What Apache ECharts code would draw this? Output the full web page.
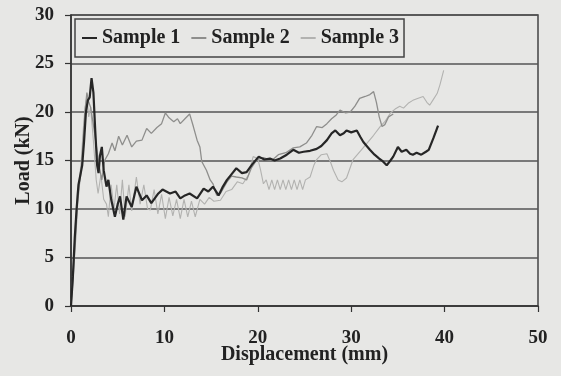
<!DOCTYPE html>
<html><head><meta charset="utf-8">
<script src="https://cdn.jsdelivr.net/npm/echarts@6/dist/echarts.min.js"></script>
<style>html,body{margin:0;padding:0;background:#e7e7e5;}#c{width:561px;height:376px;}</style>
</head><body><div id="c"></div>
<script>
var seriesNames = ['Sample 1', 'Sample 2', 'Sample 3'];
var xTicks = [0, 10, 20, 30, 40, 50];
var yTicks = [0, 5, 10, 15, 20, 25, 30];

var disp1 = [0,0.2,0.4,0.6,0.8,1.0,1.2,1.4,1.6,1.8,2.0,2.2,2.4,2.6,2.8,2.95,3.1,3.3,3.5,3.8,4.0,4.3,4.7,5.0,5.25,5.6,5.95,6.5,7.0,7.6,8.1,8.6,9.35,9.8,10.6,11.2,11.7,12.2,12.7,13.5,14.2,14.7,15.2,15.8,16.2,16.7,17.2,17.7,18.3,18.8,19.4,20.1,20.7,21.3,21.8,22.4,23.1,23.8,24.4,24.9,25.6,26.3,26.8,27.4,27.9,28.3,28.8,29.2,29.5,30.0,30.6,31.0,31.3,32.0,32.5,33.0,33.4,33.8,34.2,34.5,35.0,35.4,35.9,36.3,36.6,37.0,37.5,38.0,38.3,38.8,39.3];
var load1 = [0,3,7,10,12.5,13.5,14.5,17,20,21.2,21.5,23.5,22,18,14.5,13.7,15.5,16.4,14,12.3,13,11,9.2,10.5,11.3,8.9,11.3,10.2,12.3,10.9,11.4,10.6,11.6,12,11.6,11.8,11.1,11.4,11.6,11.1,12.1,11.8,12.3,11.4,12.2,13,13.6,14.2,13.7,13.8,14.6,15.4,15.1,15.2,15.0,15.2,15.6,16.1,15.8,15.9,16.0,16.2,16.5,17.1,17.8,18.1,17.6,17.8,18.1,17.9,18.1,17.4,16.9,16.1,15.6,15.2,14.9,14.5,15.0,15.4,16.4,15.9,16.1,15.7,15.6,15.8,15.6,15.9,16.1,17.3,18.6];

var disp2 = [0,0.2,0.5,0.7,0.9,1.1,1.3,1.5,1.7,1.9,2.1,2.5,3.0,3.3,3.6,4.0,4.4,4.7,5.1,5.5,6.0,6.5,7.0,7.6,8.1,8.6,9.2,9.7,10.1,10.5,11.0,11.4,11.7,12.2,12.7,13.1,13.5,13.8,14.0,14.5,14.9,15.2,15.6,16.0,16.2,16.7,17.2,17.7,18.3,18.8,19.3,19.9,20.6,21.5,22.2,23.0,23.8,24.5,25.2,25.8,26.3,26.9,27.4,27.9,28.4,28.8,29.4,29.9,30.4,30.9,31.5,32.0,32.4,32.7,33.0,33.3,33.6,34.0,34.5];
var load2 = [0,2.5,7,10.5,12.5,14,17,20,22,21,20.5,18,14.5,13,15.0,15.7,16.8,16.0,17.5,16.6,17.6,16.4,17.0,17.1,18.3,17.8,18.4,18.8,19.9,19.4,19.0,19.3,18.8,19.3,19.8,18.5,17.1,16.4,14.9,14.0,13.0,12.6,11.4,11.6,11.8,12.8,13.4,13.3,13.2,13.0,14.2,15.1,15.3,15.0,15.6,15.8,16.3,16.4,16.8,17.6,18.5,18.4,18.8,19.3,19.7,20.2,19.9,20.0,20.6,21.4,21.6,21.8,22.1,21.0,19.5,18.5,18.7,19.5,19.8];

var disp3 = [0,0.3,0.5,0.7,0.9,1.1,1.3,1.5,1.7,1.9,2.1,2.4,2.7,2.9,3.2,3.5,3.8,4.0,4.3,4.6,4.9,5.2,5.5,5.8,6.2,6.5,7.0,7.4,7.8,8.2,8.5,8.9,9.3,9.7,10.1,10.5,10.9,11.3,11.7,12.1,12.5,12.9,13.3,13.8,14.3,14.8,15.3,16.0,16.6,17.2,17.8,18.4,19.0,19.5,20.0,20.3,20.6,20.9,21.2,21.5,21.8,22.1,22.4,22.7,23.0,23.3,23.6,23.9,24.2,24.5,24.8,25.1,25.6,26.0,26.3,26.8,27.4,27.8,28.1,28.6,29.0,29.5,30.2,31.0,31.7,32.4,33.1,33.6,34.2,34.7,35.2,35.6,36.1,36.6,37.1,37.7,38.1,38.4,38.8,39.2,39.5,39.9];
var load3 = [0,5,9,12,13,15,18,20.5,21.5,19.5,20.5,17,13,11.6,13.5,11,10.5,9.2,12.5,10,12.5,9.5,13,9.2,12.5,9.8,13.3,10.5,12.5,10,9.9,12.0,9.5,11.5,9.0,11.2,9.3,11.0,9.0,11.0,9.2,10.8,9.2,11.0,10.5,11.2,10.8,10.9,11.8,12.0,12.8,12.6,13.5,15.4,15.2,14.0,12.6,13.0,12.0,13.0,12.0,13.0,12.0,13.0,12.0,13.0,12.0,13.0,12.0,13.0,12.0,13.0,13.3,14.5,15.1,15.6,15.7,14.8,14.0,13.0,12.8,13.2,15.1,16.0,16.8,17.6,18.5,19.0,19.9,20.3,20.6,20.4,20.9,21.2,21.4,21.6,21.0,20.7,21.3,21.9,22.8,24.3];

function pairs(xs, ys){ return xs.map(function(x,i){ return [x, ys[i]]; }); }

var font = '"Liberation Serif", "Times New Roman", serif';
var chart = echarts.init(document.getElementById('c'));
chart.setOption({
  backgroundColor: '#e7e7e5',
  animation: false,
  grid: { left: 71, right: 23, top: 15, bottom: 70, containLabel: false, outerBoundsMode: 'none', show: true, borderColor: '#444', borderWidth: 1.5, backgroundColor: 'transparent' },
  legend: {
    data: seriesNames, left: 75, top: 19, padding: [9, 5, 9, 7], itemGap: 11,
    icon: 'rect', itemWidth: 15, itemHeight: 2,
    borderColor: '#444', borderWidth: 1.5, backgroundColor: '#e7e7e5',
    textStyle: { fontFamily: font, fontWeight: 'bold', fontSize: 20, color: '#222' }
  },
  xAxis: {
    type: 'value', min: xTicks[0], max: xTicks[xTicks.length-1], interval: 10,
    name: 'Displacement (mm)', nameLocation: 'middle', nameGap: 39, nameMoveOverlap: false,
    nameTextStyle: { fontFamily: font, fontWeight: 'bold', fontSize: 20, color: '#222' },
    axisLine: { lineStyle: { color: '#333', width: 1.5 } },
    axisTick: { show: true, length: 6, lineStyle: { color: '#333', width: 1.2 } },
    axisLabel: { margin: 23, fontFamily: font, fontWeight: 'bold', fontSize: 19, color: '#222' },
    splitLine: { show: false }
  },
  yAxis: {
    type: 'value', min: yTicks[0], max: yTicks[yTicks.length-1], interval: 5,
    name: 'Load (kN)', nameLocation: 'middle', nameGap: 37, nameMoveOverlap: false,
    nameTextStyle: { fontFamily: font, fontWeight: 'bold', fontSize: 20, color: '#222' },
    axisLine: { show: true, lineStyle: { color: '#333', width: 1.5 } },
    axisTick: { show: true, length: 6, lineStyle: { color: '#333', width: 1.2 } },
    axisLabel: { margin: 17, fontFamily: font, fontWeight: 'bold', fontSize: 19, color: '#222' },
    splitLine: { show: true, lineStyle: { color: '#555', width: 1.5 } }
  },
  series: [
    { name: seriesNames[2], type: 'line', data: pairs(disp3, load3), showSymbol: false, z: 2,
      itemStyle: { color: '#b2b2b0' }, lineStyle: { color: '#b2b2b0', width: 1.1 } },
    { name: seriesNames[1], type: 'line', data: pairs(disp2, load2), showSymbol: false, z: 3,
      itemStyle: { color: '#8e8e8c' }, lineStyle: { color: '#8e8e8c', width: 1.3 } },
    { name: seriesNames[0], type: 'line', data: pairs(disp1, load1), showSymbol: false, z: 4,
      itemStyle: { color: '#262626' }, lineStyle: { color: '#262626', width: 2.2 } }
  ]
});
</script></body></html>
